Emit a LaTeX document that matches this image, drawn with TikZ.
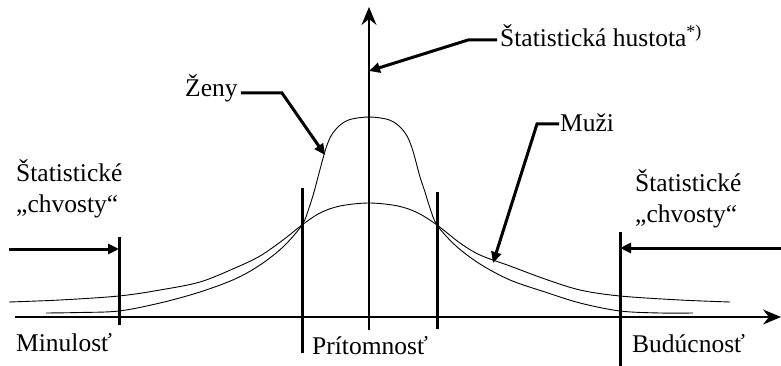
\documentclass[tikz,border=0pt]{standalone}
\usepackage{fontspec}
\setmainfont{Liberation Serif}
\usetikzlibrary{arrows.meta,calc}
\begin{document}
\begin{tikzpicture}[x=1pt,y=-1pt,
  lbl/.style={inner sep=0pt,anchor=base west,font=\fontsize{25.5pt}{30pt}\selectfont},
  axis/.style={line width=1pt},
  axisarrow/.style={line width=1.1pt,-{Stealth[length=18pt,width=15pt,inset=6pt]}},
  bar/.style={line width=3pt},
  leader/.style={line width=3pt,-{Triangle[length=11pt,width=10pt]}},
  curve/.style={line width=0.9pt,smooth,tension=0.55}]
\useasboundingbox (0,0) rectangle (781,366);
% axes
\coordinate (xl) at (15,317);
\coordinate (xr) at (781,317);
\coordinate (yb) at (369,330);
\coordinate (yt) at (369,7);
\draw[axisarrow] (xl) -- (xr);
\draw[axisarrow] (yb) -- (yt);
% curves
\draw[curve] plot coordinates {(9,302) (60,300) (119,296) (160,290) (200,282) (235,268) (260,256) (283,240) (302,225) (320,213) (340,206) (369,203) (398,206) (418,213) (437,225) (460,243) (480,255) (510,266) (545,279) (580,290) (620,296) (680,300) (730,302)};
\draw[curve] plot coordinates {(46,313) (80,312.5) (119,311) (160,303) (200,292) (235,279) (260,265) (283,247) (302,225) (309,208) (314,192) (318,177) (322,162) (326,148) (331,136) (339,126) (350,119.5) (369,117) (388,119.5) (399,126) (407,136) (412,148) (416,162) (420,177) (425,192) (430,208) (437,225) (456,246) (480,264) (510,280) (545,292) (580,303) (620,311) (660,313) (693,313)};
% bars
\coordinate (b1t) at (119,237); \coordinate (b1b) at (119,325);
\coordinate (b2t) at (302,188); \coordinate (b2b) at (302,353);
\coordinate (b3t) at (437,192); \coordinate (b3b) at (437,329);
\coordinate (b4t) at (620,232); \coordinate (b4b) at (620,366);
\draw[bar] (b1t) -- (b1b);
\draw[bar] (b2t) -- (b2b);
\draw[bar] (b3t) -- (b3b);
\draw[bar] (b4t) -- (b4b);
% tail arrows
\coordinate (la) at (9,249); \coordinate (lat) at (119,249);
\coordinate (ra) at (781,248); \coordinate (rat) at (620,248);
\draw[leader] (la) -- (lat);
\draw[leader] (ra) -- (rat);
% labels
\node[lbl] (hust) at (500,47) {Štatistická hustota\textsuperscript{*)}};
\node[lbl] (zeny) at (185,97) {Ženy};
\node[lbl] (muzi) at (560,132) {Muži};
\node[lbl] (sl1) at (16,182) {Štatistické};
\node[lbl] (sl2) at (16,212) {„chvosty“};
\node[lbl] (sr1) at (635,192) {Štatistické};
\node[lbl] (sr2) at (635,222) {„chvosty“};
\node[lbl] (minu) at (16,351) {Minulosť};
\node[lbl] (prit) at (312,354) {Prítomnosť};
\node[lbl] (budu) at (632,352) {Budúcnosť};
% leaders
\coordinate (hk) at (468,40); \coordinate (ht) at (369,71);
\coordinate (zk) at (282,93); \coordinate (zt) at (325,155);
\coordinate (mk) at (537,124); \coordinate (mt) at (493,263);
\draw[leader] ($(hust.base west)+(-3,-7)$) -- (hk) -- (ht);
\draw[leader] ($(zeny.base east)+(3,-4)$) -- (zk) -- (zt);
\draw[leader] ($(muzi.base west)+(-1,-8)$) -- (mk) -- (mt);
\end{tikzpicture}
\end{document}
